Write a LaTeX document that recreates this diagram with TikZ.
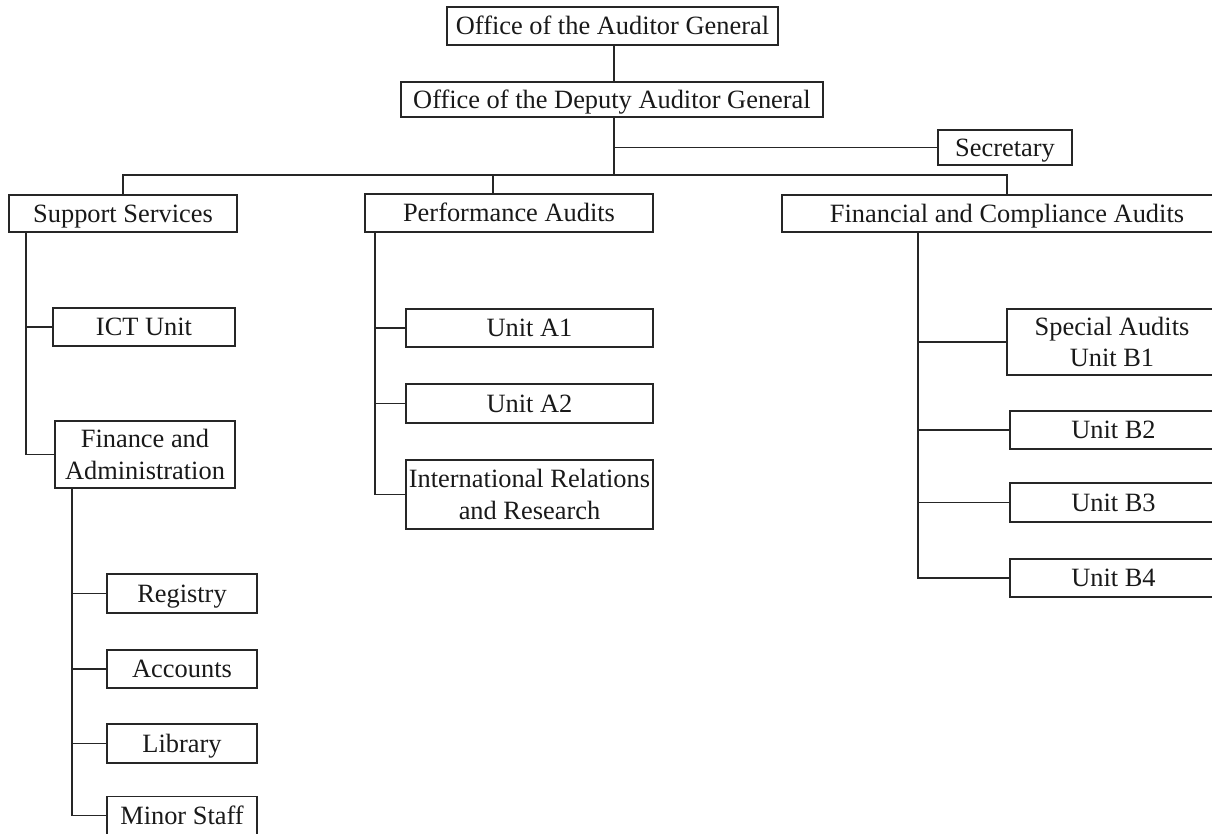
\documentclass[tikz,border=0pt]{standalone}
\usepackage{fontspec}
\setmainfont{Liberation Serif}
\begin{document}
\begin{tikzpicture}[x=0.5pt,y=-0.5pt,
  box/.style={draw=black!85, line width=0.9pt, rectangle, inner sep=0pt, align=center,
    font=\fontsize{13.2}{15.8}\selectfont, text=black!90},
  one/.style={box, text height=10pt, text depth=1.3pt},
  link/.style={draw=black!85, line width=0.9pt}]
\useasboundingbox (0,0) rectangle (1212,834);
\clip (0,0) rectangle (1212,834);
% top
\node[one, minimum width=165.5pt, minimum height=19pt] (aud) at (612.5,26) {Office of the Auditor General};
\node[one, minimum width=211pt, minimum height=17.5pt] (dep) at (612,99.5) {Office of the Deputy Auditor General};
\node[one, minimum width=67pt, minimum height=17.5pt] (sec) at (1005,147.5) {Secretary};
% second level
\node[one, minimum width=114pt, minimum height=18.5pt] (sup) at (123,213.5) {Support Services};
\node[one, minimum width=144pt, minimum height=19pt] (perf) at (509,213) {Performance Audits};
\node[one, minimum width=225pt, minimum height=18.5pt] (fin) at (1007,213.5) {Financial and Compliance Audits};
% support children
\node[one, minimum width=91pt, minimum height=19pt] (ict) at (144,327) {ICT Unit};
\node[box, minimum width=90pt, minimum height=33.5pt] (fa) at (145,454.5) {Finance and\\Administration};
\node[one, minimum width=75pt, minimum height=19.5pt] (reg) at (182,593.5) {Registry};
\node[one, minimum width=75pt, minimum height=19pt] (acc) at (182,669) {Accounts};
\node[one, minimum width=75pt, minimum height=19.5pt] (lib) at (182,743.5) {Library};
\node[one, minimum width=75pt, minimum height=19pt] (minor) at (182,815.5) {Minor Staff};
% performance children
\node[one, minimum width=123.5pt, minimum height=19pt] (a1) at (529.5,328) {Unit A1};
\node[one, minimum width=123.5pt, minimum height=19.5pt] (a2) at (529.5,403.5) {Unit A2};
\node[box, minimum width=123.5pt, minimum height=34.5pt] (irr) at (529.5,494.5) {International Relations\\and Research};
% financial children
\node[box, minimum width=105pt, minimum height=33pt] (b1) at (1112,342) {Special Audits\\Unit B1};
\node[one, minimum width=103.5pt, minimum height=19pt] (b2) at (1113.5,430) {Unit B2};
\node[one, minimum width=103.5pt, minimum height=19.5pt] (b3) at (1113.5,502.5) {Unit B3};
\node[one, minimum width=103.5pt, minimum height=19pt] (b4) at (1113.5,578) {Unit B4};
% coordinates
\coordinate (hub) at (614,175);
\coordinate (perftop) at (493,175);
\coordinate (supv) at ([xshift=9pt]sup.south west);
\coordinate (fav) at ([xshift=9pt]fa.south west);
\coordinate (perfv) at ([xshift=5.5pt]perf.south west);
\coordinate (finv) at ([xshift=68.5pt]fin.south west);
% connectors
\draw[link] (aud.south -| hub) -- (dep.north -| hub);
\draw[link] (dep.south -| hub) -- (hub);
\draw[link] (hub |- sec.west) -- (sec.west);
\draw[link] (sup.north) -- (sup.north |- hub) -- (fin.north |- hub) -- (fin.north);
\draw[link] (perftop) -- (perftop |- perf.north);
\draw[link] (supv) |- (fa.west);
\draw[link] (ict.west) -- (supv |- ict.west);
\draw[link] (fav) |- (minor.west);
\draw[link] (reg.west) -- (fav |- reg.west);
\draw[link] (acc.west) -- (fav |- acc.west);
\draw[link] (lib.west) -- (fav |- lib.west);
\draw[link] (perfv) |- (irr.west);
\draw[link] (a1.west) -- (perfv |- a1.west);
\draw[link] (a2.west) -- (perfv |- a2.west);
\draw[link] (finv) |- (b4.west);
\draw[link] (b1.west) -- (finv |- b1.west);
\draw[link] (b2.west) -- (finv |- b2.west);
\draw[link] (b3.west) -- (finv |- b3.west);
\end{tikzpicture}
\end{document}
